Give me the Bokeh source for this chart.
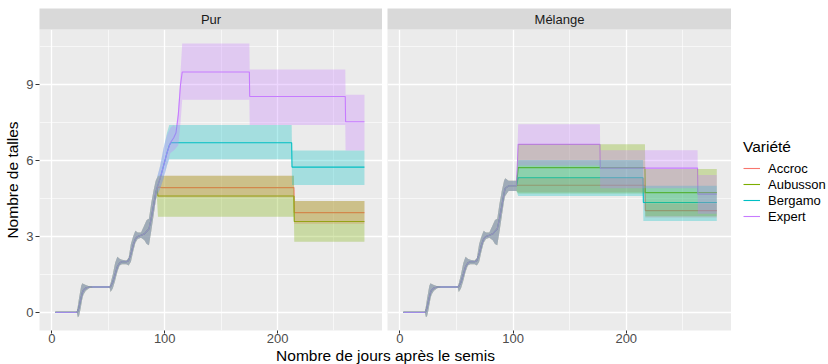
from bokeh.plotting import figure
from bokeh.models import Range1d, FixedTicker, LinearAxis, Legend, LegendItem, Label, Spacer
from bokeh.layouts import column, row
from bokeh.embed import file_html
from bokeh.resources import INLINE

FONT = "Liberation Sans"

VARIETIES = ["Accroc", "Aubusson", "Bergamo", "Expert"]
COLORS = ["#F8766D", "#7CAE00", "#00BFC4", "#C77CFF"]
PANELS = ["Pur", "Mélange"]
X_TICKS = [0, 100, 200]
X_MINOR = [50, 150, 250]
Y_TICKS = [0, 3, 6, 9]
Y_MINOR = [1.5, 4.5, 7.5, 10.5]
X_TITLE = "Nombre de jours après le semis"
Y_TITLE = "Nombre de talles"
LEGEND_TITLE = "Variété"

# common early phase (all varieties, both panels)
EARLY_DAY = [3, 22, 23, 24, 25, 26, 27, 28, 30, 33, 36, 51, 52, 54, 56, 58, 60, 62, 66, 68,
             70, 72, 74, 76, 79, 82, 84, 86, 88, 90, 92]
EARLY_MEAN = [0, 0, 0.05, 0.2, 0.4, 0.6, 0.78, 0.88, 0.96, 1.0, 1.0, 1.0, 1.02, 1.2, 1.5, 1.8,
              1.95, 2.0, 2.0, 2.05, 2.3, 2.65, 2.9, 3.0, 3.05, 3.1, 3.2, 3.3, 3.7, 4.2, 4.7]
EARLY_LO = [0, 0, -0.2, -0.15, 0.05, 0.3, 0.55, 0.7, 0.85, 0.95, 1.0, 1.0, 0.8, 0.95, 1.25, 1.6,
            1.85, 1.9, 1.9, 1.85, 2.0, 2.4, 2.75, 2.9, 2.95, 2.85, 2.7, 2.65, 3.2, 3.8, 4.4]
EARLY_HI = [0, 0, 0.25, 0.55, 0.8, 1.05, 1.15, 1.12, 1.08, 1.03, 1.0, 1.0, 1.15, 1.5, 1.95, 2.2,
            2.12, 2.08, 2.05, 2.15, 2.7, 3.0, 3.22, 3.15, 3.15, 3.45, 3.65, 3.7, 4.3, 4.8, 5.2]

# Pur
PUR_ACCROC_DAY = [93, 95, 97, 214.5, 214.8, 277]
PUR_ACCROC_MEAN = [4.9, 4.95, 4.93, 4.93, 3.94, 3.94]
PUR_ACCROC_LO = [4.6, 4.55, 4.55, 4.55, 3.5, 3.5]
PUR_ACCROC_HI = [5.3, 5.4, 5.4, 5.4, 4.4, 4.4]

PUR_AUBUSSON_DAY = [93, 94, 214.5, 214.8, 277]
PUR_AUBUSSON_MEAN = [4.9, 4.6, 4.6, 3.59, 3.59]
PUR_AUBUSSON_LO = [4.6, 3.78, 3.78, 2.79, 2.79]
PUR_AUBUSSON_HI = [5.3, 5.4, 5.4, 4.4, 4.4]

PUR_BERGAMO_DAY = [93, 96, 99, 102, 104, 105.5, 212.5, 212.8, 277]
PUR_BERGAMO_MEAN = [4.9, 5.3, 5.8, 6.3, 6.6, 6.7, 6.7, 5.74, 5.74]
PUR_BERGAMO_LO = [4.6, 4.9, 5.3, 5.8, 6.05, 6.05, 6.05, 5.03, 5.03]
PUR_BERGAMO_HI = [5.3, 5.8, 6.5, 7.1, 7.4, 7.4, 7.4, 6.4, 6.4]

PUR_EXPERT_DAY = [93, 96, 99, 102, 105, 108, 110, 112, 114, 115.5, 175, 175.3, 260, 260.3, 277]
PUR_EXPERT_MEAN = [4.9, 5.3, 5.8, 6.3, 6.7, 6.9, 7.1, 7.8, 9.0, 9.5, 9.5, 8.53, 8.53, 7.53, 7.53]
PUR_EXPERT_LO = [4.6, 4.9, 5.3, 5.8, 6.3, 6.4, 6.5, 6.6, 7.5, 8.4, 8.4, 7.4, 7.4, 6.4, 6.4]
PUR_EXPERT_HI = [5.3, 5.8, 6.5, 7.0, 7.3, 7.4, 7.3, 8.0, 9.5, 10.63, 10.63, 9.6, 9.6, 8.6, 8.6]

# Mélange
MEL_ACCROC_DAY = [93, 96, 103, 104.5, 216.5, 216.8, 280]
MEL_ACCROC_MEAN = [4.9, 5.0, 5.0, 5.02, 5.02, 4.02, 4.02]
MEL_ACCROC_LO = [4.6, 4.8, 4.8, 4.75, 4.75, 3.75, 3.75]
MEL_ACCROC_HI = [5.3, 5.2, 5.2, 5.3, 5.3, 4.3, 4.3]

MEL_AUBUSSON_DAY = [93, 96, 103, 104.5, 216.5, 216.8, 280]
MEL_AUBUSSON_MEAN = [4.9, 5.0, 5.0, 5.72, 5.72, 4.73, 4.73]
MEL_AUBUSSON_LO = [4.6, 4.8, 4.8, 4.7, 4.7, 3.8, 3.8]
MEL_AUBUSSON_HI = [5.3, 5.2, 5.2, 6.64, 6.64, 5.66, 5.66]

MEL_BERGAMO_DAY = [93, 96, 103, 104.5, 214.8, 215.1, 280]
MEL_BERGAMO_MEAN = [4.9, 5.0, 5.0, 5.32, 5.32, 4.34, 4.34]
MEL_BERGAMO_LO = [4.6, 4.8, 4.8, 4.6, 4.6, 3.61, 3.61]
MEL_BERGAMO_HI = [5.3, 5.2, 5.2, 6.02, 6.02, 5.0, 5.0]

MEL_EXPERT_DAY = [93, 96, 103, 104.5, 176.7, 177, 263, 263.3, 280]
MEL_EXPERT_MEAN = [4.9, 5.0, 5.0, 6.64, 6.64, 5.7, 5.7, 4.67, 4.67]
MEL_EXPERT_LO = [4.6, 4.8, 4.8, 5.8, 5.8, 4.9, 4.9, 3.9, 3.9]
MEL_EXPERT_HI = [5.3, 5.2, 5.2, 7.43, 7.43, 6.41, 6.41, 5.43, 5.43]

SERIES = {
    "Pur": [
        (PUR_ACCROC_DAY, PUR_ACCROC_MEAN, PUR_ACCROC_LO, PUR_ACCROC_HI),
        (PUR_AUBUSSON_DAY, PUR_AUBUSSON_MEAN, PUR_AUBUSSON_LO, PUR_AUBUSSON_HI),
        (PUR_BERGAMO_DAY, PUR_BERGAMO_MEAN, PUR_BERGAMO_LO, PUR_BERGAMO_HI),
        (PUR_EXPERT_DAY, PUR_EXPERT_MEAN, PUR_EXPERT_LO, PUR_EXPERT_HI),
    ],
    "Mélange": [
        (MEL_ACCROC_DAY, MEL_ACCROC_MEAN, MEL_ACCROC_LO, MEL_ACCROC_HI),
        (MEL_AUBUSSON_DAY, MEL_AUBUSSON_MEAN, MEL_AUBUSSON_LO, MEL_AUBUSSON_HI),
        (MEL_BERGAMO_DAY, MEL_BERGAMO_MEAN, MEL_BERGAMO_LO, MEL_BERGAMO_HI),
        (MEL_EXPERT_DAY, MEL_EXPERT_MEAN, MEL_EXPERT_LO, MEL_EXPERT_HI),
    ],
}

ROW_H = 340
SMALL = "13px"
LARGE = "15.5px"


def style_axis(ax, ticks):
    ax.ticker = FixedTicker(ticks=ticks)
    ax.axis_line_color = None
    ax.major_tick_line_color = "#333333"
    ax.major_tick_in = 0
    ax.major_tick_out = 4
    ax.minor_tick_line_color = None
    ax.major_label_standoff = 2
    ax.major_label_text_font = FONT
    ax.major_label_text_font_size = SMALL
    ax.major_label_text_color = "#4D4D4D"
    ax.axis_label_text_font = FONT
    ax.axis_label_text_font_style = "normal"
    ax.axis_label_text_font_size = LARGE
    ax.axis_label_text_color = "black"


def make_panel(panel, show_y, width, border_left, border_right):
    p = figure(width=width, height=ROW_H, x_range=Range1d(-11, 293), y_range=Range1d(-0.72, 11.18),
               output_backend="svg", toolbar_location=None,
               y_axis_location="left" if show_y else None,
               min_border_left=border_left, min_border_right=border_right,
               min_border_top=20, min_border_bottom=18,
               background_fill_color="#EBEBEB", border_fill_color="white",
               outline_line_color=None)
    for g, ticks, minor in ((p.xgrid, X_TICKS, X_MINOR), (p.ygrid, Y_TICKS, Y_MINOR)):
        g.ticker = FixedTicker(ticks=ticks, minor_ticks=minor)
        g.grid_line_color = "white"
        g.grid_line_width = 1.3
        g.minor_grid_line_color = "white"
        g.minor_grid_line_width = 0.6
    style_axis(p.xaxis[0], X_TICKS)
    p.xaxis[0].major_tick_out = 3
    p.xaxis[0].major_label_standoff = 0
    if show_y:
        style_axis(p.yaxis[0], Y_TICKS)
        p.yaxis[0].axis_label = Y_TITLE
        p.yaxis[0].axis_label_standoff = 2

    strip = LinearAxis(axis_label=panel, ticker=FixedTicker(ticks=[]))
    strip.axis_line_color = None
    strip.major_tick_line_color = None
    strip.minor_tick_line_color = None
    strip.major_tick_out = 0
    strip.axis_label_standoff = 3
    strip.axis_label_text_font = FONT
    strip.axis_label_text_font_style = "normal"
    strip.axis_label_text_font_size = SMALL
    strip.axis_label_text_color = "#1A1A1A"
    strip.background_fill_color = "#D9D9D9"
    p.add_layout(strip, "above")

    lines = []
    for (day, mean, lo, hi), color in zip(SERIES[panel], COLORS):
        lines.append((EARLY_DAY + day, EARLY_MEAN + mean))
        p.line(EARLY_DAY + day, EARLY_MEAN + mean, line_color=color, line_width=1.1)
    for (day, mean, lo, hi), color in zip(SERIES[panel], COLORS):
        p.varea(x=EARLY_DAY + day, y1=EARLY_LO + lo, y2=EARLY_HI + hi,
                fill_color=color, fill_alpha=0.3)
    return p, lines


left, _ = make_panel("Pur", True, 382, 39, 0)
right, mel_lines = make_panel("Mélange", False, 349, 5, 0)

# legend in its own figure; its proxy lines hold the Mélange series but lie outside its view
legfig = figure(width=97, height=ROW_H, x_range=Range1d(-2, -1), y_range=Range1d(0, 1),
                output_backend="svg", toolbar_location=None,
                x_axis_location=None, y_axis_location=None, min_border=0,
                background_fill_color="white", border_fill_color="white", outline_line_color=None)
legfig.xgrid.visible = False
legfig.ygrid.visible = False
items = []
for v, c, (xs, ys) in zip(VARIETIES, COLORS, mel_lines):
    ln = legfig.line(xs, ys, line_color=c, line_width=1.1)
    items.append(LegendItem(label=v, renderers=[ln]))
legend = Legend(items=items, title=LEGEND_TITLE, location=(12, 106))
legend.title_text_font = FONT
legend.title_text_font_style = "normal"
legend.title_text_font_size = LARGE
legend.title_text_color = "black"
legend.title_standoff = 4
legend.label_text_font = FONT
legend.label_text_font_size = SMALL
legend.label_text_color = "black"
legend.glyph_width = 17
legend.glyph_height = 16
legend.label_height = 16
legend.label_standoff = 8
legend.spacing = 0
legend.padding = 0
legend.margin = 0
legend.border_line_color = None
legend.background_fill_alpha = 0
legfig.add_layout(legend)

tfig = figure(width=828, height=16, x_range=Range1d(0, 1), y_range=Range1d(0, 1),
              output_backend="svg", toolbar_location=None,
              x_axis_location=None, y_axis_location=None, min_border=0,
              background_fill_color="white", border_fill_color="white", outline_line_color=None)
tfig.xgrid.visible = False
tfig.ygrid.visible = False
tfig.add_layout(Label(x=385, y=9, x_units="screen", y_units="screen", text=X_TITLE,
                      text_align="center", text_baseline="alphabetic",
                      text_font=FONT, text_font_size=LARGE, text_color="black"))

layout = column(Spacer(width=828, height=8), row(left, right, legfig), tfig)
layout.styles = {"position": "absolute", "top": "0px", "left": "0px"}
open("out.html", "w").write(file_html(layout, INLINE))
